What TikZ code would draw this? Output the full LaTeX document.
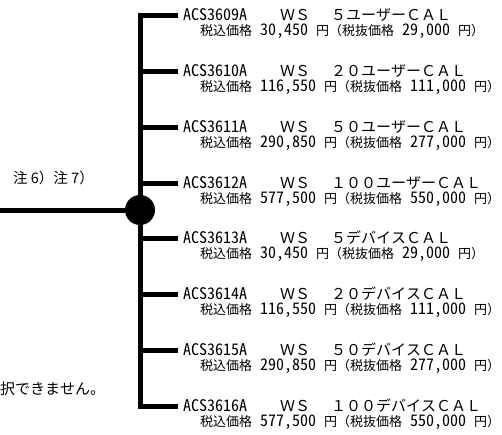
\documentclass[tikz,border=0pt]{standalone}
\usepackage{fontspec}
\newfontfamily\jp[Kerning=Off]{Noto Sans CJK JP}
\newfontfamily\jph[RawFeature=+hwid,Kerning=Off]{Noto Sans CJK JP}
\newcommand\itemname[2]{{\jph\fontsize{16}{16}\selectfont #1}\hspace{33pt}{\jp\fontsize{15}{15}\selectfont ＷＳ　\hspace{6pt}#2}}
\newcommand\itemprice[2]{\fontsize{13}{13}\selectfont{\jp 税込価格}{\jph\fontsize{16}{16}\selectfont\ #1 }{\jp 円（税抜価格}{\jph\fontsize{16}{16}\selectfont\ #2 }{\jp 円）}}
\begin{document}
\begin{tikzpicture}[x=1pt,y=-1pt,
  trunk/.style={line width=5pt,line join=miter},
  hubdot/.style={circle,fill=black,minimum size=30pt,inner sep=0pt},
  nameline/.style={anchor=west,inner xsep=5pt,inner ysep=0pt},
  priceline/.style={anchor=west,inner sep=0pt},
  note/.style={anchor=west,inner sep=0pt,font=\jp\fontsize{14.5}{14.5}\selectfont}]
\useasboundingbox (0,0) rectangle (502,434);
\node[hubdot] (hub) at (140,210) {};
\coordinate (left) at (0,210);
\node[note] (n67) at (13,178) {注 6）注 7）};
\node[note,font=\jp\fontsize{15}{15}\selectfont] (nsel) at (0,389) {択できません。};
\coordinate (v1) at (140,15);
\coordinate (v2) at (140,71);
\coordinate (v3) at (140,127);
\coordinate (v4) at (140,183);
\coordinate (v5) at (140,238);
\coordinate (v6) at (140,294);
\coordinate (v7) at (140,350);
\coordinate (v8) at (140,406);
\node[nameline] (a1) at (178,15) {\itemname{ACS3609A}{５ユーザーＣＡＬ}};
\node[priceline] (p1) at (200,31.5) {\itemprice{30,450}{29,000}};
\node[nameline] (a2) at (178,71) {\itemname{ACS3610A}{２０ユーザーＣＡＬ}};
\node[priceline] (p2) at (200,87.5) {\itemprice{116,550}{111,000}};
\node[nameline] (a3) at (178,127) {\itemname{ACS3611A}{５０ユーザーＣＡＬ}};
\node[priceline] (p3) at (200,143.5) {\itemprice{290,850}{277,000}};
\node[nameline] (a4) at (178,183) {\itemname{ACS3612A}{１００ユーザーＣＡＬ}};
\node[priceline] (p4) at (200,199.5) {\itemprice{577,500}{550,000}};
\node[nameline] (a5) at (178,238) {\itemname{ACS3613A}{５デバイスＣＡＬ}};
\node[priceline] (p5) at (200,254.5) {\itemprice{30,450}{29,000}};
\node[nameline] (a6) at (178,294) {\itemname{ACS3614A}{２０デバイスＣＡＬ}};
\node[priceline] (p6) at (200,310.5) {\itemprice{116,550}{111,000}};
\node[nameline] (a7) at (178,350) {\itemname{ACS3615A}{５０デバイスＣＡＬ}};
\node[priceline] (p7) at (200,366.5) {\itemprice{290,850}{277,000}};
\node[nameline] (a8) at (178,406) {\itemname{ACS3616A}{１００デバイスＣＡＬ}};
\node[priceline] (p8) at (200,422.5) {\itemprice{577,500}{550,000}};
\draw[trunk] (a1.west) -- (v1) -- (v8) -- (a8.west);
\foreach \i in {2,...,7}{\draw[trunk] (v\i) -- (a\i.west);}
\draw[trunk] (left) -- (hub);
\end{tikzpicture}
\end{document}
